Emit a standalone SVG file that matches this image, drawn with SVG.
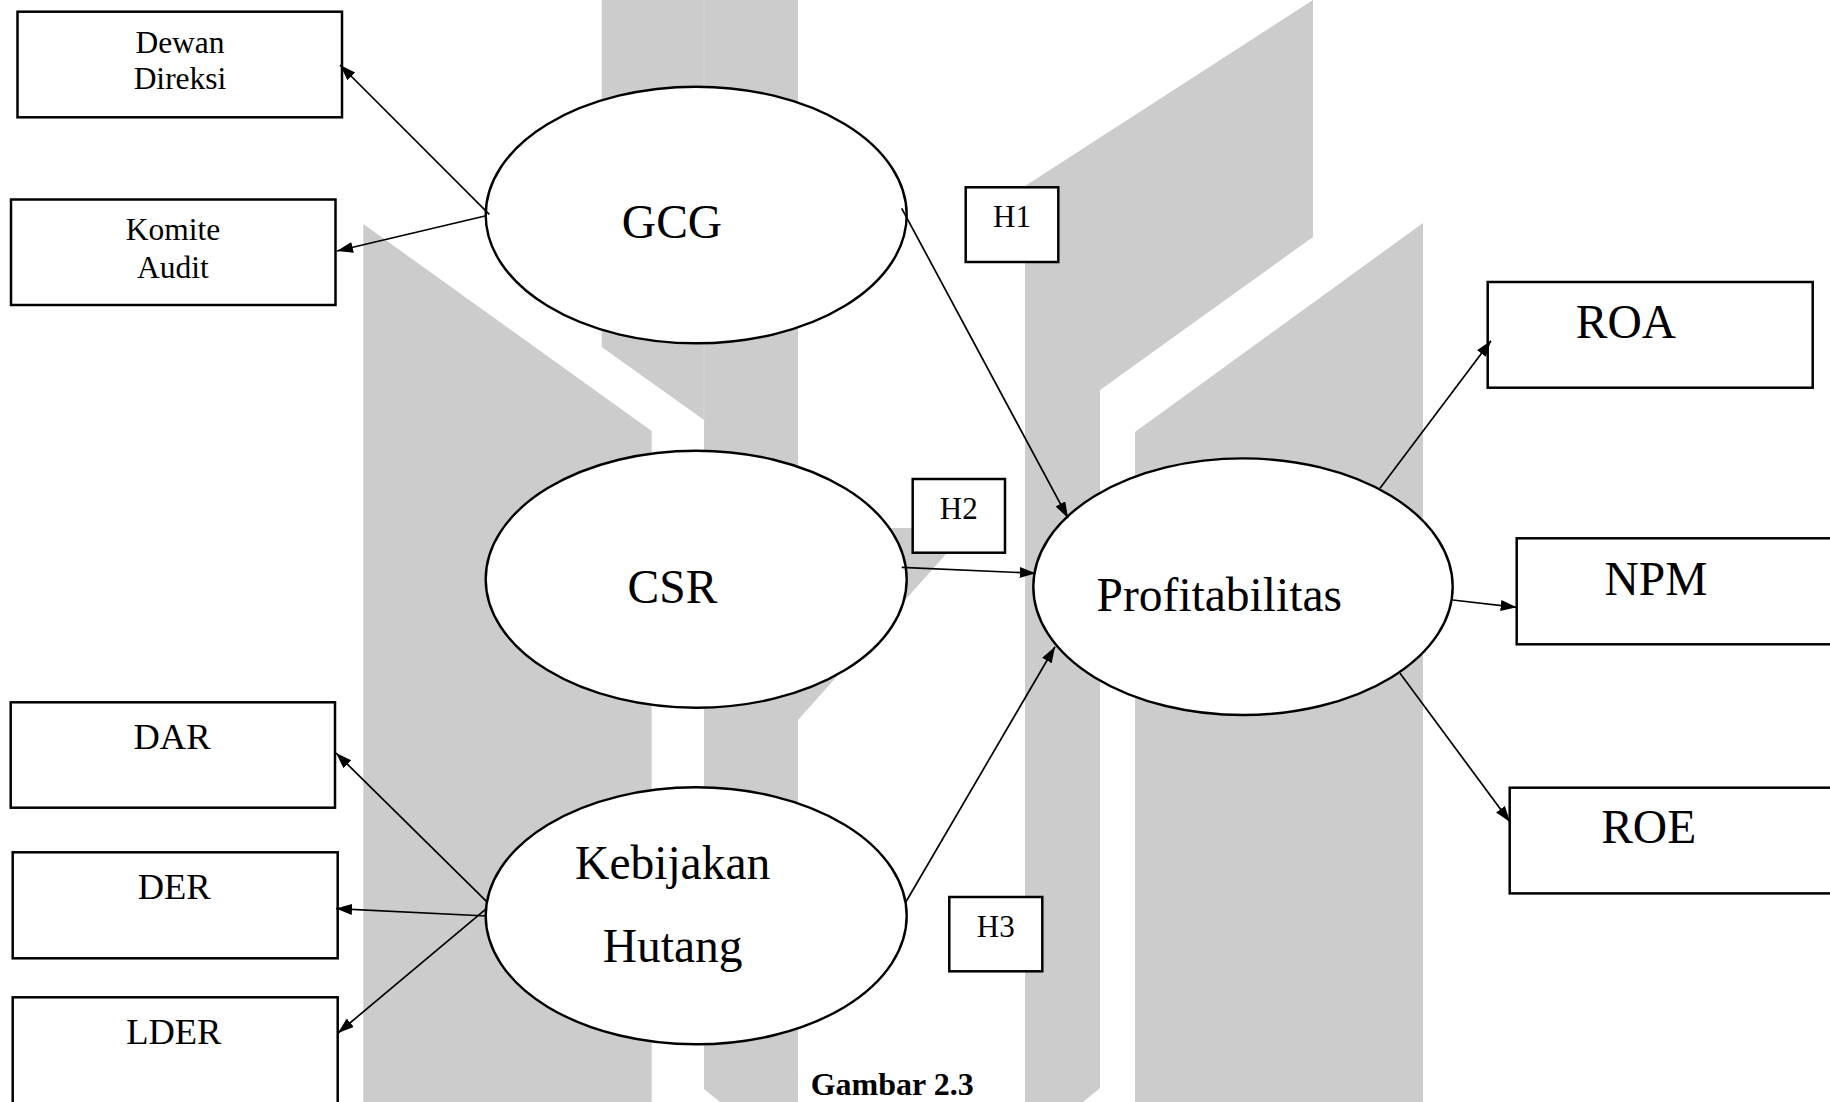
<svg xmlns="http://www.w3.org/2000/svg" width="1830" height="1102" viewBox="0 0 1830 1102">
<style>
.wm{fill:#cccccc;stroke:none}
.box{fill:#ffffff;stroke:#000;stroke-width:2.5}
.ell{fill:#ffffff;stroke:#000;stroke-width:2.4}
.conn{fill:none;stroke:#000;stroke-width:1.7;marker-end:url(#ah)}
text{font-family:"Liberation Serif","Times New Roman",serif;fill:#000;text-anchor:middle}
.big{font-size:47.5px}
.mid{font-size:36.5px}
.sm{font-size:31.5px}
.hy{font-size:31px}
.cap{font-size:32px;font-weight:bold}
</style>
<defs>
<marker id="ah" markerUnits="userSpaceOnUse" markerWidth="20" markerHeight="14" refX="16" refY="5.5" orient="auto">
<path d="M0,0 L16,5.5 L0,11 Z" fill="#000"/>
</marker>
</defs>
<rect x="0" y="0" width="1830" height="1102" fill="#ffffff"/>
<g id="watermark">
<polygon class="wm" points="363.3,224 651.7,431 651.7,1102 363.3,1102"/>
<polygon class="wm" points="601.7,0 704,0 704,420 601.7,347"/>
<polygon class="wm" points="704,0 798,0 798,1102 720,1102 704,1089"/>
<polygon class="wm" points="798,720 798,528 960,528 947,553"/>
<line x1="704" y1="0" x2="704" y2="420" stroke="#d6d6d6" stroke-width="1"/>
<polygon class="wm" points="1025,186 1313,0 1313,237 1100,390 1100,1088 1083,1102 1025,1102"/>
<polygon class="wm" points="1135,432 1423,223 1423,1102 1135,1102"/>
</g>
<g id="node-dewan-direksi">
<rect class="box" x="17.5" y="11.7" width="324.5" height="105.6"/>
<text class="sm" x="180" y="53.3">Dewan</text>
<text class="sm" x="180" y="88.5">Direksi</text>
</g>
<g id="node-komite-audit">
<rect class="box" x="11" y="199.5" width="324.5" height="105.5"/>
<text class="sm" x="173" y="239.5">Komite</text>
<text class="sm" x="173" y="277.5">Audit</text>
</g>
<g id="node-dar">
<rect class="box" x="10.7" y="702.3" width="324.3" height="105.4"/>
<text class="mid" x="172" y="749.3">DAR</text>
</g>
<g id="node-der">
<rect class="box" x="12.7" y="852.3" width="325" height="106"/>
<text class="mid" x="174.2" y="899">DER</text>
</g>
<g id="node-lder">
<rect class="box" x="12.7" y="997.3" width="325" height="120"/>
<text class="mid" x="173.8" y="1044.3">LDER</text>
</g>
<g id="node-gcg">
<ellipse class="ell" cx="696.2" cy="215" rx="210.5" ry="128.3"/>
<text class="big" x="672" y="238.3">GCG</text>
</g>
<g id="node-csr">
<ellipse class="ell" cx="696.2" cy="579.2" rx="210.5" ry="128.5"/>
<text class="big" x="672.5" y="603.3">CSR</text>
</g>
<g id="node-kebijakan-hutang">
<ellipse class="ell" cx="696.2" cy="915.8" rx="210.5" ry="128.5"/>
<text class="big" x="672.7" y="879.3">Kebijakan</text>
<text class="big" x="672.7" y="961.7">Hutang</text>
</g>
<g id="node-profitabilitas">
<ellipse class="ell" cx="1243" cy="586.7" rx="209.7" ry="128.3"/>
<text class="big" x="1219.3" y="610.7">Profitabilitas</text>
</g>
<g id="node-roa">
<rect class="box" x="1487.7" y="282" width="325" height="105.7"/>
<text class="big" x="1626" y="338.3">ROA</text>
</g>
<g id="node-npm">
<rect class="box" x="1516.7" y="538.3" width="330" height="106"/>
<text class="big" x="1656" y="595">NPM</text>
</g>
<g id="node-roe">
<rect class="box" x="1509.7" y="787.7" width="330" height="105.7"/>
<text class="big" x="1648.7" y="843">ROE</text>
</g>
<g id="node-h1">
<rect class="box" x="965.7" y="187.3" width="92.6" height="74.7" stroke-width="2"/>
<text class="hy" x="1012" y="226.7">H1</text>
</g>
<g id="node-h2">
<rect class="box" x="912.7" y="479" width="92.3" height="73.7" stroke-width="2"/>
<text class="hy" x="958.8" y="518.5">H2</text>
</g>
<g id="node-h3">
<rect class="box" x="949.3" y="897" width="93" height="74.3" stroke-width="2"/>
<text class="hy" x="995.8" y="937.3">H3</text>
</g>
<g id="connectors">
<path class="conn" d="M489.3,214.3 L340,65"/>
<path class="conn" d="M485,216 L337,251"/>
<path class="conn" d="M486.7,901.7 L336,753"/>
<path class="conn" d="M486.7,916 L336,908.6"/>
<path class="conn" d="M486.7,908.3 L338,1033"/>
<path class="conn" d="M901.7,208.3 L1068,518"/>
<path class="conn" d="M901.7,567.3 L1035.7,573.3"/>
<path class="conn" d="M906,901.7 L1055,646.7"/>
<path class="conn" d="M1380,488.3 L1491,340.7"/>
<path class="conn" d="M1452.7,600 L1516.7,607.3"/>
<path class="conn" d="M1400,673.3 L1510,822"/>
</g>
<g id="caption">
<text class="cap" x="892.2" y="1095">Gambar 2.3</text>
</g>
</svg>
